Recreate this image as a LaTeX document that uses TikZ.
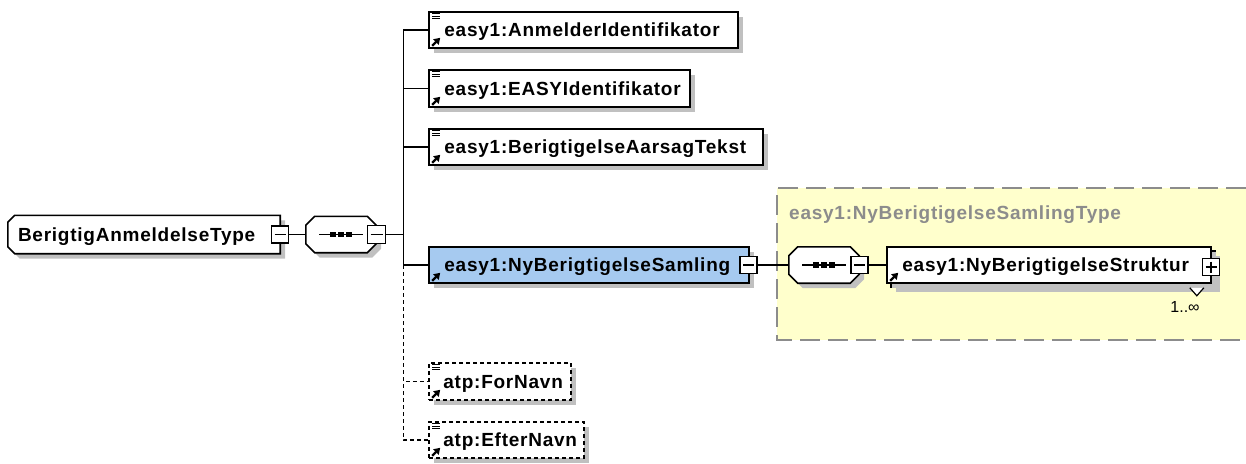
\documentclass[tikz,border=0pt]{standalone}
\usepackage{fontspec}
\setmainfont{Liberation Sans}
\newfontfamily\xsfont[LetterSpace=4]{Liberation Sans}
\usetikzlibrary{positioning,shadows,arrows.meta}
\definecolor{elemblue}{HTML}{A6CAF0}
\definecolor{typeyellow}{HTML}{FFFFCC}
\definecolor{shadowgray}{HTML}{C0C0C0}
\definecolor{typegray}{HTML}{8C8C8C}
\tikzset{
  line/.style={line width=1.6pt},
  shade box/.style={drop shadow={shadow xshift=5pt,shadow yshift=-5pt,fill=shadowgray,opacity=1}},
  elem/.style={line, draw, fill=white, shade box, minimum height=36pt, inner sep=0pt},
  optelem/.style={elem, dash pattern=on 4pt off 3pt},
  place/.style={minimum height=36pt, inner sep=0pt},
  outline/.style={line, draw, fill=white, shade box},
  elname/.style={font=\fontsize{19}{22}\xsfont\bfseries, inner sep=0pt, anchor=west,
    text height=13.6pt, text depth=0.4pt},
  xbox/.style={line, draw, fill=white, minimum size=17pt, inner sep=0pt},
  minus/.style={xbox, path picture={
      \draw[line] ([xshift=3pt]path picture bounding box.west) -- ([xshift=-3pt]path picture bounding box.east);}},
  plus/.style={xbox, path picture={
      \draw[line] ([xshift=3pt]path picture bounding box.west) -- ([xshift=-3pt]path picture bounding box.east);
      \draw[line] ([yshift=-3pt]path picture bounding box.north) -- ([yshift=3pt]path picture bounding box.south);}},
  conn/.style={line},
  optconn/.style={line, dash pattern=on 4pt off 3pt},
}
\newcommand\annoticon[1]{%
  \foreach \dy in {2.5,5,7.5}
    \draw[line width=1.3pt] ([shift={(4pt,-\dy pt)}]#1.north west) -- ++(8pt,0pt);}
\newcommand\refarrow[1]{%
  \draw[line width=2.2pt,-{Triangle[length=6pt,width=7.5pt]}] ([shift={(4pt,3pt)}]#1.south west) -- ++(8pt,8pt);}
\newcommand\seqoutline[1]{%
  \draw[outline] ([xshift=9pt]#1.north west) -- ([xshift=-9pt]#1.north east) -- ([yshift=-9pt]#1.north east)
    -- ([yshift=9pt]#1.south east) -- ([xshift=-9pt]#1.south east) -- ([xshift=9pt]#1.south west)
    -- ([yshift=9pt]#1.south west) -- ([yshift=-9pt]#1.north west) -- cycle;
  \draw[line] ([xshift=-22pt]#1.center) -- ([xshift=22pt]#1.center);
  \foreach \dx in {-8,0,8}
    \fill[black] ([xshift=\dx pt]#1.center) +(-2.8pt,-2.8pt) rectangle +(2.8pt,2.8pt);}

\begin{document}
\begin{tikzpicture}[x=1pt,y=-1pt]
    \useasboundingbox (0,0) rectangle (1246,463);

    % complex type region
    \fill[typeyellow] (777,188) rectangle (1246,340);
    \draw[line, typegray, dash pattern=on 20pt off 8pt] (1246,188) -- (777,188) -- (777,340) -- (1246,340);
    \node[elname, text=typegray] (nyst-t) at (789,213) {easy1:NyBerigtigelseSamlingType};

    % root type and sequence
    \node[place, minimum width=272pt, minimum height=38pt] (root) at (144,234.5) {};
    \draw[outline] ([xshift=7pt]root.north west) -- (root.north east) -- (root.south east)
        -- ([xshift=7pt]root.south west) -- ([yshift=7pt]root.south west) -- ([yshift=-7pt]root.north west) -- cycle;
    \node[elname, right=10pt of root.west] (root-t) {BerigtigAnmeldelseType};
    \node[minus] (rmin) at (280,234.5) {};
    \node[place, minimum width=70pt] (seqa) at (341,234.5) {};
    \seqoutline{seqa}
    \node[minus, minimum size=18pt] (amin) at (376.5,234.5) {};

    % children
    \node[elem, minimum width=309pt] (anm) at (583.5,30) {};
    \node[elname, right=16pt of anm.west] (anm-t) {easy1:AnmelderIdentifikator};
    \node[elem, minimum width=261pt, minimum height=37pt] (easy) at (559.5,88.5) {};
    \node[elname, right=16pt of easy.west] (easy-t) {easy1:EASYIdentifikator};
    \node[elem, minimum width=334pt] (aars) at (596,147) {};
    \node[elname, right=16pt of aars.west] (aars-t) {easy1:BerigtigelseAarsagTekst};
    \node[elem, fill=elemblue, minimum width=320pt] (nys) at (589,265) {};
    \node[elname, right=16pt of nys.west] (nys-t) {easy1:NyBerigtigelseSamling};
    \node[minus] (nmin) at (748.5,265) {};
    \node[optelem, minimum width=142pt, minimum height=37pt] (forn) at (500,381.5) {};
    \node[elname, right=15pt of forn.west] (forn-t) {atp:ForNavn};
    \node[optelem, minimum width=155pt] (eftn) at (506.5,440) {};
    \node[elname, right=15pt of eftn.west] (eftn-t) {atp:EfterNavn};

    \foreach \n in {anm,easy,aars,forn,eftn} {
        \annoticon{\n}
        \refarrow{\n}
    }
    \refarrow{nys}

    % inner sequence
    \node[place, minimum width=70pt] (seqb) at (824,265) {};
    \seqoutline{seqb}
    \node[minus] (bmin) at (859.5,265) {};
    \node[elem, minimum width=324pt] (nybb) at (1053,269) {};
    \node[elem, minimum width=324pt, drop shadow={opacity=0}] (nyb) at (1049,265) {};
    \node[elname, right=16pt of nyb.west] (nyb-t) {easy1:NyBerigtigelseStruktur};
    \refarrow{nyb}
    \node[plus] (nybp) at (1211,267) {};
    \draw[line width=1.2pt, fill=white] ([xshift=-26pt]nybb.south east) -- ([shift={(-19pt,-8pt)}]nybb.south east)
        -- ([xshift=-12pt]nybb.south east);
    \node[font=\fontsize{16}{18}\selectfont, inner sep=0pt] (nyb-occ) at (1185,307) {1..∞};

    % connectors
    \draw[conn] (rmin.east) -- (seqa.west);
    \draw[conn] (amin.east) -- ++(17pt,0pt) coordinate (spine);
    \draw[conn] (spine) |- (anm.west);
    \draw[conn] (spine) |- (easy.west);
    \draw[conn] (spine) |- (aars.west);
    \draw[conn] (spine) |- (nys.west);
    \draw[optconn] (spine |- nys.west) |- (forn.west);
    \draw[optconn] (spine |- nys.west) |- (eftn.west);
    \draw[conn] (nmin.east) -- (seqb.west);
    \draw[conn] (bmin.east) -- (nyb.west);
\end{tikzpicture}
\end{document}
